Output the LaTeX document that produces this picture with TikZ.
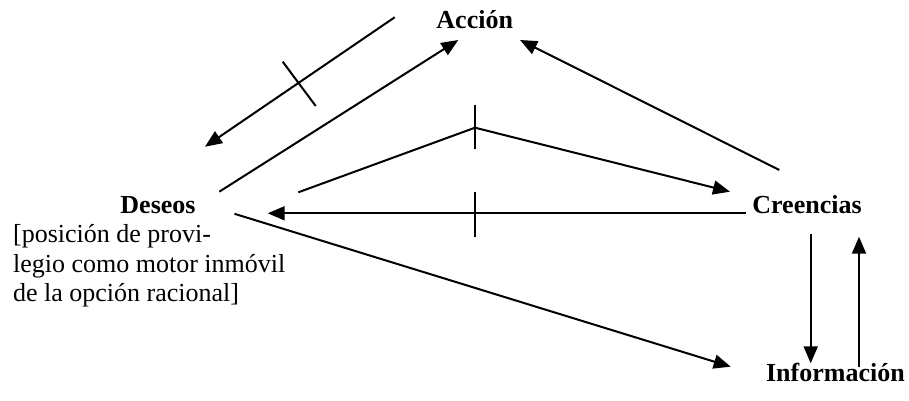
\documentclass[tikz,border=0pt]{standalone}
\usepackage{fontspec}
\setmainfont{Liberation Serif}
\usetikzlibrary{arrows.meta}
\begin{document}
\begin{tikzpicture}[x=0.5pt,y=-0.5pt,
  lbl/.style={font=\fontsize{13}{14.75}\selectfont\bfseries,inner sep=0pt,anchor=base},
  note/.style={font=\fontsize{13}{14.75}\selectfont,inner sep=0pt,align=left,anchor=base west},
  arr/.style={line width=1pt,-{Triangle[length=8.5pt,width=7pt]}},
  ln/.style={line width=1pt}]
\useasboundingbox (0,0) rectangle (909,401);

% concept labels
\node[lbl] (acc) at (474.7,29) {Acción};
\node[lbl] (cre) at (807,213.3) {Creencias};
\node[lbl] (des) at (158,213.3) {Deseos};
\node[lbl] (inf) at (835.4,381) {Información};
% the base anchor of a multi-line node sits on its last line
\node[note] (pos) at (12.7,301.7) {[posición de provi-\\legio como motor inmóvil\\de la opción racional]};

% end points of the connectors
\coordinate (a1) at (394.7,17.3);
\coordinate (d1) at (205,146.7);
\coordinate (d2) at (219.3,191.7);
\coordinate (a2) at (458.3,40);
\coordinate (c3) at (779.3,170);
\coordinate (a3) at (520,40);
\coordinate (d4) at (298.3,192.3);
\coordinate (pk) at (475,127.7);
\coordinate (c4) at (730,191.7);
\coordinate (c5) at (746,213.3);
\coordinate (d5) at (267.7,213.3);
\coordinate (d6) at (234.5,213.8);
\coordinate (i6) at (730.7,366.7);
\coordinate (c7) at (810.7,234);
\coordinate (i7) at (810.7,363.3);
\coordinate (i8) at (859,366.7);
\coordinate (c8) at (859,236.7);

% connectors
\draw[arr] (a1) -- (d1);
\draw[ln] (282.7,61.7) -- (315.7,106);
\draw[arr] (d2) -- (a2);
\draw[arr] (c3) -- (a3);
\draw[arr] (d4) -- (pk) -- (c4);
\draw[ln] (475,105) -- (475,149.3);
\draw[arr] (c5) -- (d5);
\draw[ln] (475,192.3) -- (475,236.7);
\draw[arr] (d6) -- (i6);
\draw[arr] (c7) -- (i7);
\draw[arr] (i8) -- (c8);
\end{tikzpicture}
\end{document}
